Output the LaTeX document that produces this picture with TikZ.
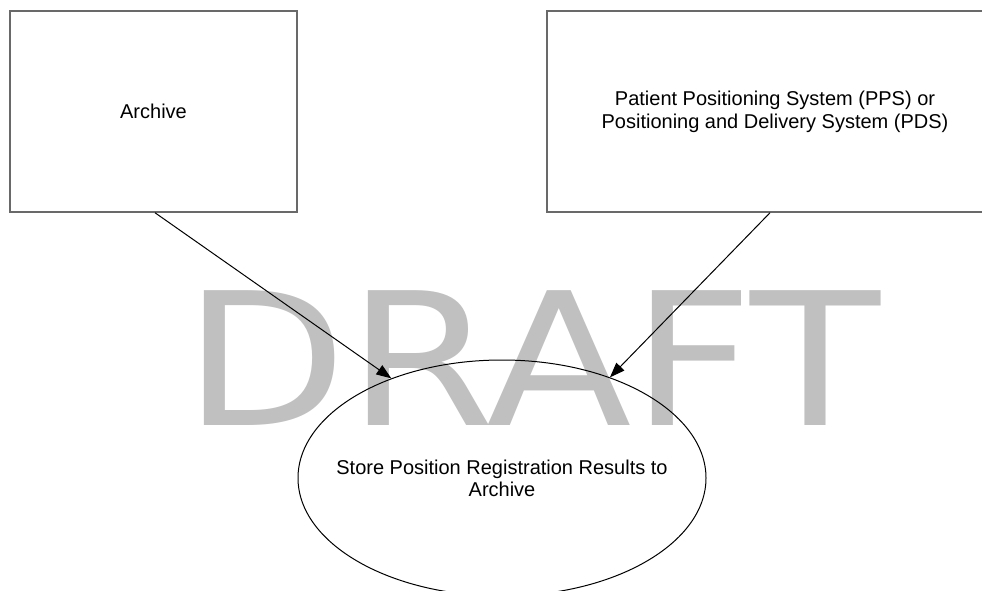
\documentclass[tikz,border=0pt]{standalone}
\usepackage{fontspec}
\setmainfont{Liberation Sans}
\newfontfamily\wmfont{DejaVu Sans}
\usetikzlibrary{shapes.geometric,arrows.meta}
\definecolor{boxgray}{RGB}{105,105,105}
\definecolor{wmgray}{RGB}{192,192,192}
\tikzset{
  box/.style={draw=boxgray, line width=1.5pt, rectangle, inner sep=0pt, align=center,
    font=\fontsize{20}{23}\selectfont},
  usecase/.style={draw=black, line width=1pt, ellipse, inner xsep=-25pt, inner ysep=0pt, align=center,
    font=\fontsize{20}{22}\selectfont},
  conn/.style={draw=black, line width=1pt, -{Triangle[length=15pt,width=11pt]}},
}
\begin{document}
\begin{tikzpicture}[x=1pt,y=-1pt]
\useasboundingbox (0,0) rectangle (982,591);
\fill[white] (0,0) rectangle (982,591);
\node[anchor=base west, inner sep=0pt, text=wmgray, font=\wmfont\fontsize{185}{185}\selectfont]
  (wm) at (183,425) {\scalebox{1.15}[1]{DRAFT}};
\node[box, minimum width=287pt, minimum height=201pt] (arch) at (153.5,111.5) {Archive};
\node[box, minimum width=456pt, minimum height=201pt] (pps) at (775,111.5)
  {Patient Positioning System (PPS) or\\Positioning and Delivery System (PDS)};
\node[usecase, minimum width=408pt, minimum height=236pt] (uc) at (502,478)
  {Store Position Registration Results to\\Archive};
\coordinate (a1) at ([xshift=1.5pt]arch.south);
\coordinate (p1) at ([xshift=-5pt]pps.south);
\draw[conn] (a1) -- (uc.138);
\draw[conn] (p1) -- (uc.43.5);
\end{tikzpicture}
\end{document}
